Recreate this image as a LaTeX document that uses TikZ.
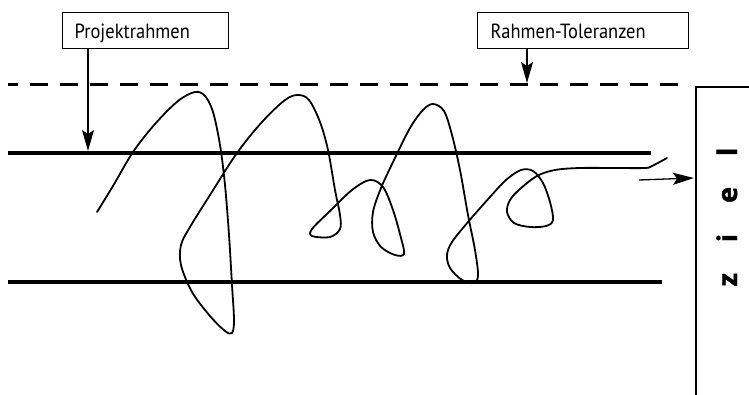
\documentclass[tikz,border=0pt]{standalone}
\usepackage{fontspec}
\setmainfont{PT Sans}
\newfontfamily\zielfont{Open Sans}
\usetikzlibrary{arrows.meta}
\tikzset{
  lbl/.style={draw, line width=1.3pt, font=\fontsize{20.5}{22}\selectfont\addfontfeature{FakeStretch=0.9}, text height=16pt, text depth=0pt, align=left, inner ysep=0pt, minimum height=36pt},
  arr/.style={line width=1.3pt, -{Stealth[length=21pt,width=12pt,inset=4pt]}},
  frame/.style={line width=4pt},
  tol/.style={line width=3pt, dash pattern=on 18pt off 12pt, dash phase=8pt},
  wiggle/.style={line width=1.8pt, line join=round, line cap=round},
  goal/.style={draw, line width=2pt, minimum width=62pt, minimum height=314pt, anchor=north west, inner sep=0pt}
}
\begin{document}
\begin{tikzpicture}[x={(1pt,0)}, y={(0,-1pt)}]
\useasboundingbox (0,0) rectangle (749,395);
% labels
\node[lbl, anchor=north west, text width=142pt, inner xsep=12pt] (pr) at (62,12) {Projektrahmen};
\node[lbl, anchor=north west, text width=185pt, inner xsep=13pt] (rt) at (477,12) {Rahmen-Toleranzen};
% frame lines
\coordinate (d1) at (8,85);
\coordinate (d2) at (690,85);
\coordinate (u1) at (8,153);
\coordinate (u2) at (651,153);
\coordinate (b1) at (8,282);
\coordinate (b2) at (662,282);
\draw[tol] (d1) -- (d2);
\draw[frame] (u1) -- (u2);
\draw[frame] (b1) -- (b2);
% arrows from labels
\coordinate (t1) at (88,151);
\coordinate (t2) at (527,83);
\draw[arr] (pr.south -| t1) -- (t1);
\draw[arr] (rt.south -| t2) -- (t2);
% goal box
\node[goal] (zielbox) at (695,86) {};
\node[rotate=90, anchor=base, font=\zielfont\fontsize{27}{30}\selectfont\bfseries\addfontfeature{FakeBold=1.5}] (ziel) at (737,217) {z\kern31pt i\kern31pt e\kern31pt l};
\coordinate (as) at (639,180);
\coordinate (ae) at (694,178);
\draw[arr] (as) -- (ae);
% path of the project
\draw[wiggle] plot[smooth, tension=0.55] coordinates {
(97,212) (113,186) (133,152) (155,124) (178,101) (195,92) (205,96) (213,112)
(220,145) (225,185) (229,235) (232,285) (234,320) (232,333) (225,331) (210,316)
(192,292) (181,265) (181,245) (190,227) (210,195) (237,153) (262,122) (285,100)
(298,95) (309,100) (320,122) (328,150) (335,190) (340,215) (340,229) (330,237)
(312,236) (312,229) (330,211) (352,190) (370,180) (383,187) (393,210) (401,238)
(404,254) (395,255) (381,247) (373,232) (373,212) (381,188) (394,160) (410,128)
(423,110) (433,104) (444,111) (452,135) (460,170) (468,215) (475,250) (478,275)
(474,283) (462,280) (450,268) (447,255) (452,242) (468,222) (490,197) (506,180)
(521,170) (533,171) (543,183) (550,202) (553,220) (546,226) (530,227) (514,223)
(507,212) (510,200) (520,189) (537,176) (555,170) (580,168) (615,168) (645,168)
(652,166) (667,158)};
\end{tikzpicture}
\end{document}
